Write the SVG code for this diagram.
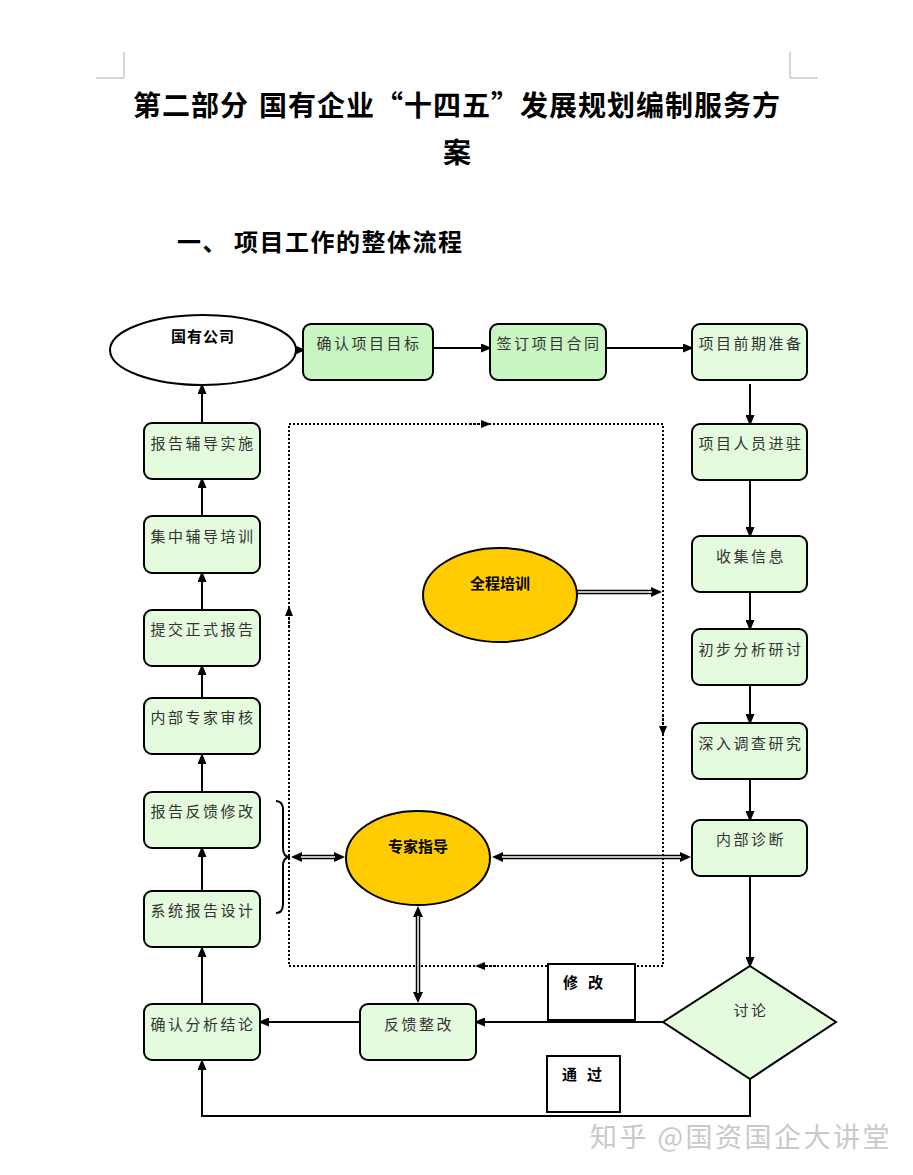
<svg xmlns="http://www.w3.org/2000/svg" width="913" height="1175" viewBox="0 0 913 1175">
<defs>
<style>
.t{font-family:"Noto Sans CJK SC","Noto Sans",sans-serif;}
.h{font-weight:bold;fill:#000;}
.box{stroke:#000;stroke-width:2;fill:#e4fbde;}
.box2{stroke:#000;stroke-width:2;fill:#c9f5c3;}
.lbl{font-size:15px;fill:#333;letter-spacing:2.5px;text-anchor:middle;}
.ln{stroke:#000;stroke-width:2;fill:none;}
.dot{stroke:#000;stroke-width:2;fill:none;stroke-dasharray:2 2;}
.dblo{stroke:#000;stroke-width:4.5;fill:none;}
.dbli{stroke:#fff;stroke-width:1.5;fill:none;}
.gold{fill:#ffcc00;stroke:#000;stroke-width:2;}
.note{stroke:#000;stroke-width:2;fill:#fff;}
</style>
<marker id="ar" markerUnits="userSpaceOnUse" markerWidth="11" markerHeight="9" refX="9" refY="4.5" orient="auto"><path d="M0,0 L11,4.5 L0,9 z" fill="#000"/></marker>
<marker id="dm" markerUnits="userSpaceOnUse" markerWidth="11" markerHeight="10" refX="1" refY="5" orient="auto-start-reverse"><path d="M0,0 L11,5 L0,10 z" fill="#000"/></marker>
<marker id="da" markerUnits="userSpaceOnUse" markerWidth="10" markerHeight="8" refX="9" refY="4" orient="auto"><path d="M0,0 L10,4 L0,8 z" fill="#000"/></marker>
</defs>
<rect width="913" height="1175" fill="#fff"/>

<g id="page-marks" style="stroke:#aaa;stroke-width:1;fill:none">
<path d="M124,52 V78 H96"/>
<path d="M790,52 V78 H818"/>
</g>

<g id="titles" class="t h">
<text x="457" y="116" font-size="28" text-anchor="middle" letter-spacing="1"><tspan>第二部分</tspan><tspan dx="10">国有企业“十四五”发展规划编制服务方</tspan></text>
<text x="457" y="163" font-size="28" text-anchor="middle">案</text>
<text x="177" y="251" font-size="24" letter-spacing="1.5"><tspan>一、</tspan><tspan dx="6">项目工作的整体流程</tspan></text>
</g>

<g id="connectors">
<!-- top row -->
<path class="ln" d="M297,350 L304,350" marker-end="url(#ar)"/>
<path class="ln" d="M433,348 L490,348" marker-end="url(#ar)"/>
<path class="ln" d="M606,348 L692,348" marker-end="url(#ar)"/>
<!-- right column -->
<path class="ln" d="M750,384 L750,424" marker-end="url(#ar)"/>
<path class="ln" d="M750,480 L750,536" marker-end="url(#ar)"/>
<path class="ln" d="M750,592 L750,629" marker-end="url(#ar)"/>
<path class="ln" d="M750,685 L750,723" marker-end="url(#ar)"/>
<path class="ln" d="M750,779 L750,820" marker-end="url(#ar)"/>
<path class="ln" d="M750,876 L750,966" marker-end="url(#ar)"/>
<!-- bottom -->
<path class="ln" d="M663,1022 L476,1022" marker-end="url(#ar)"/>
<path class="ln" d="M360,1022 L260,1022" marker-end="url(#ar)"/>
<path class="ln" d="M750,1079 L750,1116 L202,1116 L202,1061" marker-end="url(#ar)"/>
<!-- left column -->
<path class="ln" d="M202,1004 L202,948" marker-end="url(#ar)"/>
<path class="ln" d="M202,891 L202,848" marker-end="url(#ar)"/>
<path class="ln" d="M202,792 L202,755" marker-end="url(#ar)"/>
<path class="ln" d="M202,698 L202,666" marker-end="url(#ar)"/>
<path class="ln" d="M202,610 L202,573" marker-end="url(#ar)"/>
<path class="ln" d="M202,516 L202,479" marker-end="url(#ar)"/>
<path class="ln" d="M202,423 L202,385" marker-end="url(#ar)"/>
<!-- dotted loop -->
<rect class="dot" x="289" y="424" width="374" height="542"/>
<path class="dot" d="M470,424 L490,424" marker-end="url(#da)"/>
<path class="dot" d="M663,715 L663,735" marker-end="url(#da)"/>
<path class="dot" d="M496,966 L476,966" marker-end="url(#da)"/>
<path class="dot" d="M289,627 L289,607" marker-end="url(#da)"/>
<!-- brace -->
<path class="ln" d="M276,801 Q283,801 283,810 L283,848 Q283,857 290,857 Q283,857 283,866 L283,904 Q283,913 276,913"/>
<!-- double-line arrows -->
<path class="dblo" d="M577,592 L652,592" marker-end="url(#dm)"/>
<path class="dbli" d="M577,592 L652,592"/>
<path class="dblo" d="M301,857 L335,857" marker-start="url(#dm)" marker-end="url(#dm)"/>
<path class="dbli" d="M301,857 L335,857"/>
<path class="dblo" d="M502,857 L681,857" marker-start="url(#dm)" marker-end="url(#dm)"/>
<path class="dbli" d="M502,857 L681,857"/>
<path class="dblo" d="M418,916 L418,993" marker-start="url(#dm)" marker-end="url(#dm)"/>
<path class="dbli" d="M418,916 L418,993"/>
</g>

<g id="n-company">
<ellipse cx="203" cy="350" rx="93" ry="35" fill="#fff" stroke="#000" stroke-width="2"/>
<text class="t h" x="203" y="342" font-size="15" text-anchor="middle" letter-spacing="1">国有公司</text>
</g>
<g id="n-confirm-goal"><rect class="box2" x="303" y="324" width="130" height="56" rx="8"/><text class="t lbl" x="369" y="349">确认项目目标</text></g>
<g id="n-sign"><rect class="box2" x="490" y="324" width="116" height="56" rx="8"/><text class="t lbl" x="549" y="349">签订项目合同</text></g>
<g id="n-prep"><rect class="box" x="692" y="324" width="115" height="56" rx="8"/><text class="t lbl" x="751" y="349">项目前期准备</text></g>
<g id="n-staff"><rect class="box" x="692" y="424" width="115" height="56" rx="8"/><text class="t lbl" x="751" y="449">项目人员进驻</text></g>
<g id="n-collect"><rect class="box" x="692" y="536" width="115" height="56" rx="8"/><text class="t lbl" x="751" y="562">收集信息</text></g>
<g id="n-prelim"><rect class="box" x="692" y="629" width="115" height="56" rx="8"/><text class="t lbl" x="751" y="655">初步分析研讨</text></g>
<g id="n-deep"><rect class="box" x="692" y="723" width="115" height="56" rx="8"/><text class="t lbl" x="751" y="749">深入调查研究</text></g>
<g id="n-diag"><rect class="box" x="692" y="820" width="115" height="56" rx="8"/><text class="t lbl" x="751" y="845">内部诊断</text></g>
<g id="n-discuss"><path d="M750,966 L836,1022 L750,1079 L663,1022 Z" fill="#e4fbde" stroke="#000" stroke-width="2"/><text class="t lbl" x="751" y="1016">讨论</text></g>
<g id="n-feedback"><rect class="box" x="360" y="1004" width="116" height="56" rx="8"/><text class="t lbl" x="419" y="1030">反馈整改</text></g>
<g id="n-conclude"><rect class="box" x="144" y="1004" width="116" height="56" rx="8"/><text class="t lbl" x="203" y="1030">确认分析结论</text></g>
<g id="n-design"><rect class="box" x="144" y="891" width="116" height="56" rx="8"/><text class="t lbl" x="203" y="916">系统报告设计</text></g>
<g id="n-revise"><rect class="box" x="144" y="792" width="116" height="56" rx="8"/><text class="t lbl" x="203" y="817">报告反馈修改</text></g>
<g id="n-review"><rect class="box" x="144" y="698" width="116" height="56" rx="8"/><text class="t lbl" x="203" y="723">内部专家审核</text></g>
<g id="n-submit"><rect class="box" x="144" y="610" width="116" height="56" rx="8"/><text class="t lbl" x="203" y="635">提交正式报告</text></g>
<g id="n-train"><rect class="box" x="144" y="516" width="116" height="57" rx="8"/><text class="t lbl" x="203" y="542">集中辅导培训</text></g>
<g id="n-implement"><rect class="box" x="144" y="423" width="116" height="56" rx="8"/><text class="t lbl" x="203" y="449">报告辅导实施</text></g>
<g id="n-training"><ellipse class="gold" cx="500" cy="595" rx="77" ry="47"/><text class="t h" x="500" y="589" font-size="15" text-anchor="middle">全程培训</text></g>
<g id="n-expert"><ellipse class="gold" cx="418" cy="858" rx="72" ry="47"/><text class="t h" x="418" y="852" font-size="15" text-anchor="middle">专家指导</text></g>
<g id="n-modify"><rect class="note" x="548" y="964" width="87" height="56"/><text class="t h" x="563" y="988" font-size="15" letter-spacing="10">修改</text></g>
<g id="n-pass"><rect class="note" x="547" y="1056" width="73" height="56"/><text class="t h" x="562" y="1080" font-size="15" letter-spacing="10">通过</text></g>

<g id="watermark"><text class="t" x="590" y="1147" font-size="27" letter-spacing="2.5" fill="#c9c9c9">知乎 @国资国企大讲堂</text></g>
</svg>
